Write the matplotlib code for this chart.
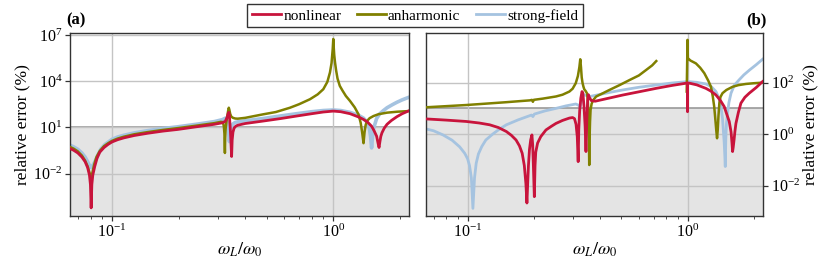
import numpy as np
import matplotlib
matplotlib.use('Agg')
import matplotlib.pyplot as plt
from matplotlib.ticker import LogLocator, NullLocator, NullFormatter

plt.rcParams['font.family'] = 'serif'
plt.rcParams['font.serif'] = ['Liberation Serif', 'DejaVu Serif']
plt.rcParams['mathtext.fontset'] = 'stix'
plt.rcParams['font.size'] = 11.5

# colours of the three models
c_nl = '#c8143c'
c_an = '#808000'
c_sf = '#a5c3e0'

# ---- panel (a) ----
a_nl_x = [0.0649, 0.067, 0.070, 0.073, 0.0755, 0.0775, 0.079, 0.0798, 0.0804, 0.081, 0.0818, 0.0835,
          0.0855, 0.088, 0.092, 0.096, 0.100, 0.106, 0.113, 0.126, 0.145, 0.170, 0.198, 0.24, 0.29,
          0.315, 0.325, 0.331, 0.335, 0.337, 0.339, 0.342, 0.344, 0.347, 0.349, 0.352, 0.356, 0.362,
          0.37, 0.40, 0.482, 0.58, 0.683, 0.80, 0.90, 1.0, 1.08, 1.19, 1.30, 1.37, 1.43, 1.49, 1.53,
          1.57, 1.595, 1.61, 1.625, 1.64, 1.66, 1.70, 1.75, 1.83, 1.94, 2.05, 2.18]
a_nl_y = [0.41, 0.33, 0.22, 0.12, 0.06, 0.025, 0.008, 0.002, 6e-5, 0.002, 0.008, 0.03,
          0.1, 0.25, 0.5, 0.8, 1.15, 1.6, 2.1, 3.0, 4.2, 5.8, 7.4, 11, 16,
          20, 25, 45, 80, 95, 60, 10, 2, 0.13, 1.5, 5, 9, 12,
          14, 18, 26, 38, 55, 78, 100, 115, 105, 78, 48, 33, 22, 12, 6,
          2.7, 0.9, 0.5, 1.2, 2.6, 4.5, 9, 16, 28, 50, 78, 115]

a_an_x = [0.0649, 0.067, 0.070, 0.073, 0.0755, 0.0775, 0.079, 0.0803, 0.0815, 0.083, 0.085, 0.088,
          0.092, 0.096, 0.100, 0.106, 0.113, 0.126, 0.145, 0.170, 0.198, 0.24, 0.29, 0.31, 0.317,
          0.320, 0.322, 0.3236, 0.3245, 0.326, 0.329, 0.332, 0.335, 0.337, 0.339, 0.342, 0.346, 0.352,
          0.36, 0.37, 0.40, 0.44, 0.482, 0.55, 0.637, 0.70, 0.785, 0.85, 0.901, 0.94, 0.966, 0.982,
          0.994, 1.0, 1.005, 1.01, 1.018, 1.03, 1.045, 1.07, 1.10, 1.14, 1.19, 1.25, 1.30, 1.33, 1.35,
          1.37, 1.385, 1.40, 1.42, 1.46, 1.52, 1.60, 1.75, 1.95, 2.18]
a_an_y = [0.52, 0.42, 0.28, 0.15, 0.07, 0.03, 0.012, 0.005, 0.012, 0.04, 0.12, 0.3,
          0.62, 0.95, 1.35, 1.9, 2.5, 3.6, 5.0, 6.9, 9, 13, 19, 23, 22,
          12, 4, 0.22, 2, 8, 25, 60, 130, 190, 140, 75, 50, 42,
          38, 37, 42, 55, 71, 100, 190, 320, 680, 1400, 3000, 9000, 37000, 1.5e5,
          1.2e6, 5.5e6, 1.5e6, 5e5, 1.7e5, 5e4, 1.5e4, 5000, 2500, 1100, 525, 200, 71, 20, 5,
          0.95, 5, 14, 26, 40, 55, 72, 91, 105, 115]

a_sf_x = [0.0649, 0.067, 0.070, 0.073, 0.0755, 0.0775, 0.079, 0.0805, 0.082, 0.084, 0.086, 0.089,
          0.093, 0.1, 0.106, 0.113, 0.126, 0.145, 0.170, 0.198, 0.24, 0.29, 0.315, 0.325, 0.331,
          0.336, 0.339, 0.343, 0.347, 0.352, 0.36, 0.37, 0.40, 0.482, 0.58, 0.683, 0.80, 0.90, 1.0,
          1.08, 1.19, 1.30, 1.37, 1.42, 1.455, 1.475, 1.49, 1.505, 1.52, 1.545, 1.57, 1.62, 1.68,
          1.75, 1.85, 1.94, 2.05, 2.18]
a_sf_y = [0.68, 0.55, 0.38, 0.22, 0.12, 0.06, 0.035, 0.025, 0.035, 0.07, 0.15, 0.4,
          0.8, 1.7, 2.4, 3.1, 4.4, 6.2, 8.5, 11, 16, 24, 32, 40, 25,
          6, 1.2, 6, 12, 17, 21, 23, 27, 38, 56, 78, 105, 125, 135,
          125, 95, 62, 40, 22, 9, 2.5, 0.47, 2.5, 8, 18, 38, 75, 120,
          190, 300, 430, 620, 870]

# ---- panel (b) ----
b_nl_x = [0.0645, 0.08, 0.0986, 0.113, 0.126, 0.138, 0.150, 0.158, 0.166, 0.172, 0.177, 0.181,
          0.184, 0.186, 0.1875, 0.189, 0.191, 0.1935, 0.196, 0.1975, 0.199, 0.201, 0.2025, 0.204,
          0.208, 0.215, 0.227, 0.24, 0.252, 0.27, 0.290, 0.30, 0.306, 0.311, 0.315, 0.318, 0.320,
          0.323, 0.327, 0.331, 0.334, 0.338, 0.342, 0.345, 0.348, 0.351, 0.354, 0.358, 0.365, 0.38,
          0.42, 0.507, 0.60, 0.719, 0.85, 0.96, 0.984, 0.9975, 0.9985, 0.9995, 1.02, 1.10, 1.21,
          1.28, 1.345, 1.41, 1.466, 1.51, 1.545, 1.575, 1.59, 1.60, 1.61, 1.625, 1.64, 1.657, 1.70,
          1.746, 1.82, 1.905, 2.05, 2.19]
b_nl_y = [3.9, 3.5, 3.1, 2.7, 2.3, 1.8, 1.26, 0.9, 0.59, 0.35, 0.18, 0.06,
          0.012, 0.0021, 0.012, 0.06, 0.25, 0.6, 0.93, 0.4, 0.06, 0.0037, 0.06, 0.2,
          0.45, 0.8, 1.45, 2.0, 2.6, 3.4, 4.2, 4.4, 4.0, 2.4, 0.8, 0.085, 1.5,
          8, 25, 45, 40, 12, 2, 0.21, 3, 20, 34, 26, 20, 19,
          23, 33, 44, 60, 78, 92, 95, 97, 7.4, 97, 95, 82, 60,
          46, 33, 20, 11.7, 5.5, 3.1, 1.2, 0.45, 0.21, 0.3, 0.6, 1.3, 2.6, 7,
          16, 27, 39, 65, 110]

b_an_x1 = [0.0645, 0.08, 0.0986, 0.12, 0.150, 0.175, 0.192, 0.196, 0.198, 0.200, 0.22, 0.252,
           0.27, 0.290, 0.30, 0.310, 0.317, 0.322, 0.325, 0.3275, 0.330, 0.333, 0.336, 0.339, 0.344,
           0.349, 0.352, 0.354, 0.356, 0.357, 0.358, 0.360, 0.362, 0.366, 0.372, 0.384, 0.41, 0.441,
           0.49, 0.544, 0.60, 0.647, 0.69, 0.72]
b_an_y1 = [11, 12.2, 13.5, 15.2, 17.4, 19.3, 20.5, 21.4, 18, 21.5, 24, 29,
           34, 45, 58, 95, 180, 400, 810, 400, 160, 95, 70, 55, 47,
           38, 20, 5, 0.5, 0.063, 0.5, 3, 8.7, 15, 21, 29, 38, 52,
           80, 126, 190, 309, 470, 690]
b_an_x2 = [0.990, 0.9985, 1.002, 1.03, 1.09, 1.14, 1.19, 1.24, 1.276, 1.30, 1.32, 1.335, 1.35, 1.36,
           1.37, 1.38, 1.393, 1.41, 1.44, 1.50, 1.60, 1.70, 1.84, 2.0, 2.19]
b_an_y2 = [45, 4600, 890, 720, 560, 380, 234, 120, 69, 30, 11.7, 4, 1.3, 0.69,
           1.5, 5, 15.8, 28, 39, 52, 69, 80, 89, 95, 100]

b_sf_x = [0.0645, 0.070, 0.0773, 0.085, 0.092, 0.097, 0.100, 0.102, 0.104, 0.1057, 0.1075, 0.1094,
          0.112, 0.116, 0.121, 0.13, 0.140, 0.150, 0.17, 0.195, 0.198, 0.201, 0.225, 0.252, 0.28,
          0.310, 0.318, 0.325, 0.330, 0.334, 0.34, 0.36, 0.40, 0.45, 0.507, 0.60, 0.719, 0.85, 1.0,
          1.10, 1.21, 1.28, 1.345, 1.39, 1.417, 1.44, 1.452, 1.465, 1.475, 1.482, 1.49, 1.50, 1.518,
          1.54, 1.574, 1.63, 1.71, 1.80, 1.91, 2.05, 2.19]
b_sf_y = [1.6, 1.35, 0.93, 0.58, 0.32, 0.18, 0.11, 0.06, 0.02, 0.0013, 0.02, 0.074,
          0.17, 0.33, 0.59, 1.0, 1.6, 2.3, 3.6, 5.5, 4.8, 6.0, 8.0, 10, 12.5,
          14.8, 13.5, 11.7, 20, 35, 33, 29, 35, 43, 52, 66, 81, 97, 110,
          103, 89, 70, 45, 24, 11.7, 4, 1.45, 0.5, 0.15, 0.055, 0.6, 2.5, 6.5,
          17, 39, 80, 126, 200, 309, 500, 810]

fig = plt.figure(figsize=(8.3, 2.64), dpi=100)
ax1 = fig.add_axes([0.0843, 0.182, 0.4085, 0.694])
ax2 = fig.add_axes([0.5129, 0.182, 0.4064, 0.694])

xlim = (0.0645, 2.2)
ylims = [(1.8e-5, 1.4e7), (6.6e-4, 8.7e3)]
yticks = [[1e-2, 1e1, 1e4, 1e7], [1e-2, 1e0, 1e2]]

for ax, yl, yt in zip([ax1, ax2], ylims, yticks):
    ax.set_xscale('log')
    ax.set_yscale('log')
    ax.set_xlim(*xlim)
    ax.set_ylim(*yl)
    ax.axhspan(yl[0], 10, color='#e4e4e4', zorder=0, lw=0)
    ax.axhline(10, color='#999999', lw=1.2, zorder=0.5)
    ax.set_yticks(yt)
    ax.yaxis.set_minor_locator(NullLocator())
    ax.set_xticks([0.1, 1.0])
    ax.xaxis.set_minor_locator(LogLocator(base=10, subs=np.arange(2, 10)))
    ax.xaxis.set_minor_formatter(NullFormatter())
    ax.grid(True, which='major', color='#c4c4c4', lw=1.0, zorder=0.4)
    ax.set_axisbelow(True)
    for s in ax.spines.values():
        s.set_color('#333333')
        s.set_linewidth(1.0)
    ax.tick_params(which='major', direction='out', length=3.5, width=0.9, color='#333333', pad=2)
    ax.tick_params(which='minor', direction='out', length=2, width=0.6, color='#333333')
    ax.set_xlabel(r'$\omega_L/\omega_0$', fontsize=13, labelpad=0)
    ax.set_ylabel('relative error (%)', fontsize=12.5, labelpad=2)

ax1.plot(a_sf_x, a_sf_y, color=c_sf, lw=2.6, zorder=2)
ax1.plot(a_an_x, a_an_y, color=c_an, lw=1.8, zorder=3)
ax1.plot(a_nl_x, a_nl_y, color=c_nl, lw=2.0, zorder=4)

ax2.plot(b_sf_x, b_sf_y, color=c_sf, lw=2.0, zorder=2)
ax2.plot(b_an_x1, b_an_y1, color=c_an, lw=1.8, zorder=3)
ax2.plot(b_an_x2, b_an_y2, color=c_an, lw=1.8, zorder=3)
ax2.plot(b_nl_x, b_nl_y, color=c_nl, lw=2.0, zorder=4)

ax2.yaxis.tick_right()
ax2.yaxis.set_label_position('right')

ax1.text(-0.01, 1.025, '(a)', transform=ax1.transAxes, fontweight='bold', ha='left', va='bottom', fontsize=12)
ax2.text(1.01, 1.025, '(b)', transform=ax2.transAxes, fontweight='bold', ha='right', va='bottom', fontsize=12)

handles = [plt.Line2D([], [], color=c_nl, lw=2.0),
           plt.Line2D([], [], color=c_an, lw=2.0),
           plt.Line2D([], [], color=c_sf, lw=2.0)]
leg = fig.legend(handles, ['nonlinear', 'anharmonic', 'strong-field'], loc='upper center',
                 bbox_to_anchor=(0.5, 0.995), ncol=3, fancybox=False, framealpha=1,
                 edgecolor='#333333', fontsize=11, handlelength=1.9, handletextpad=0.15,
                 columnspacing=1.0, borderpad=0.3, borderaxespad=0.2)
leg.get_frame().set_linewidth(1.0)

fig.savefig('out.png', dpi=100)
